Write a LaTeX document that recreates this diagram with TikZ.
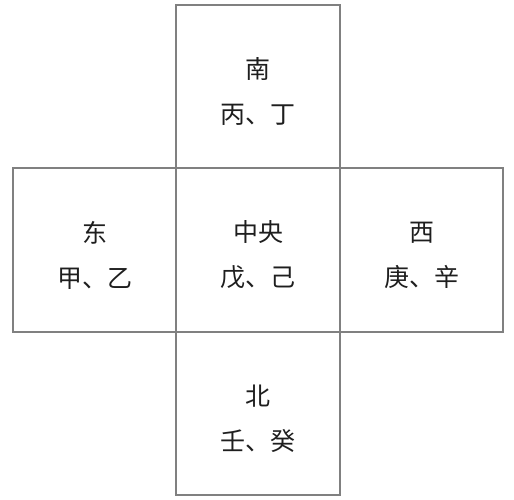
\documentclass[tikz,border=0pt]{standalone}
\usepackage{fontspec}
\newfontfamily\cjk{Noto Sans CJK SC}
\usetikzlibrary{positioning}
\definecolor{frame}{RGB}{128,128,128}
\definecolor{ink}{RGB}{30,30,30}
\begin{document}
\begin{tikzpicture}[x=1pt, y=-1pt,
        cell/.style={draw=frame, line width=2pt, minimum size=163.5pt, inner sep=0pt, outer sep=0pt},
        word/.style={text=ink, align=center, font=\cjk\fontsize{25}{45}\selectfont}]
    \useasboundingbox (0,0) rectangle (514,500);

    % five squares of the cross
    \node[cell] (mid) at (258,250) {};
    \node[cell, above=0pt of mid] (south) {};
    \node[cell, below=0pt of mid] (north) {};
    \node[cell, left=0pt of mid] (east) {};
    \node[cell, right=0pt of mid] (west) {};

    % labels
    \node[word] at ([yshift=-5pt]south.center) {南\\丙、丁};
    \node[word] at ([yshift=-5pt]east.center) {东\\甲、乙};
    \node[word] at ([yshift=-5pt]mid.center) {中央\\戊、己};
    \node[word] at ([yshift=-5pt]west.center) {西\\庚、辛};
    \node[word] at ([yshift=-5pt]north.center) {北\\壬、癸};
\end{tikzpicture}
\end{document}
